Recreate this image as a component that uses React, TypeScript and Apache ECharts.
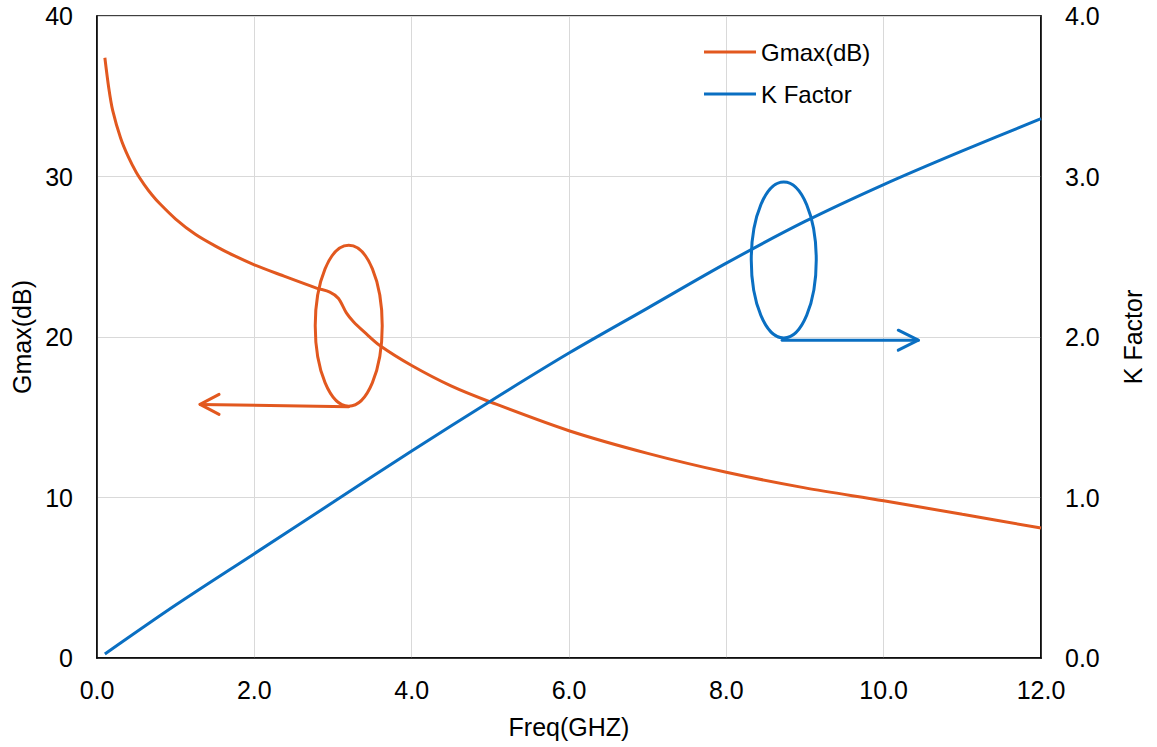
import React, { useEffect, useRef } from "react";
import * as echarts from "echarts";

// Gmax(dB) vs frequency (GHz)
const gmaxFreq = [0.1, 0.15, 0.2, 0.3, 0.4, 0.5, 0.6, 0.7, 0.8, 1.0, 1.25, 1.5, 1.75, 2.0, 2.33, 2.79, 2.96, 3.07, 3.17, 3.26, 3.4, 3.6, 4.0, 4.5, 5.0, 6.0, 7.0, 8.0, 9.0, 10.0, 11.0, 12.0];
const gmaxValues = [37.4, 35.5, 34.1, 32.4, 31.2, 30.25, 29.5, 28.85, 28.3, 27.35, 26.4, 25.68, 25.05, 24.5, 23.88, 23.05, 22.8, 22.4, 21.5, 20.95, 20.3, 19.45, 18.22, 16.95, 15.95, 14.16, 12.75, 11.57, 10.6, 9.8, 8.95, 8.1];

// K factor vs frequency (GHz)
const kFreq = [0.1, 1.0, 2.0, 3.0, 4.0, 5.0, 6.0, 7.0, 8.0, 9.0, 10.0, 11.0, 12.0];
const kValues = [0.025, 0.33, 0.65, 0.97, 1.29, 1.6, 1.9, 2.18, 2.46, 2.72, 2.95, 3.16, 3.36];

// Axis tick settings
const xTicks = { min: 0, max: 12, interval: 2 };
const gmaxTicks = { min: 0, max: 40, interval: 10 };
const kTicks = { min: 0, max: 4, interval: 1 };

// Annotation anchors in data coordinates: [freq, value]
const gmaxEllipseCenter = [3.2, 20.7];
const gmaxArrowFrom = [3.2, 15.65];
const gmaxArrowTo = [1.31, 15.8];
const kEllipseCenter = [8.73, 2.48];
const kArrowFrom = [8.71, 1.98];
const kArrowTo = [10.44, 1.98];

const ORANGE = "#E2581F";
const BLUE = "#0A6FC2";
const FONT = "'Liberation Sans', Arial, sans-serif";

export default function App() {
  const ref = useRef<HTMLDivElement>(null);

  useEffect(() => {
    if (!ref.current) return;
    const chart = echarts.init(ref.current, undefined, { renderer: "svg" });
    const gmaxData = gmaxFreq.map((f, i) => [f, gmaxValues[i]]);
    const kData = kFreq.map((f, i) => [f, kValues[i]]);
    const tickText = { color: "#000", fontSize: 25, fontFamily: FONT };
    const nameText = { color: "#000", fontSize: 25, fontFamily: FONT };

    chart.setOption({
      animation: false,
      backgroundColor: "#fff",
      textStyle: { fontFamily: FONT },
      grid: {
        left: 97,
        right: 116,
        top: 16,
        bottom: 89,
        show: true,
        borderColor: "#000",
        borderWidth: 1.5,
        backgroundColor: "transparent",
      },
      legend: {
        orient: "vertical",
        left: 699,
        top: 35,
        itemGap: 18,
        itemWidth: 52,
        itemHeight: 3,
        icon: "rect",
        textStyle: { color: "#000", fontSize: 24, fontFamily: FONT },
        data: ["Gmax(dB)", "K Factor"],
      },
      xAxis: {
        type: "value",
        ...xTicks,
        name: "Freq(GHZ)",
        nameLocation: "middle",
        nameGap: 56,
        nameTextStyle: nameText,
        axisLine: { show: true, lineStyle: { color: "#000", width: 1.5 } },
        axisTick: { show: false },
        axisLabel: { ...tickText, margin: 19, formatter: (v: number) => v.toFixed(1) },
        splitLine: { show: true, lineStyle: { color: "#d9d9d9", width: 1 } },
      },
      yAxis: [
        {
          type: "value",
          ...gmaxTicks,
          name: "Gmax(dB)",
          nameLocation: "middle",
          nameRotate: 90,
          nameGap: 62,
          nameTextStyle: nameText,
          axisLine: { show: true, lineStyle: { color: "#000", width: 1.5 } },
          axisTick: { show: false },
          axisLabel: { ...tickText, margin: 24 },
          splitLine: { show: true, lineStyle: { color: "#d9d9d9", width: 1 } },
        },
        {
          type: "value",
          ...kTicks,
          position: "right",
          name: "K Factor",
          nameLocation: "middle",
          nameRotate: 90,
          nameGap: 79,
          nameTextStyle: nameText,
          axisLine: { show: true, lineStyle: { color: "#000", width: 1.5 } },
          axisTick: { show: false },
          axisLabel: { ...tickText, margin: 24, formatter: (v: number) => v.toFixed(1) },
          splitLine: { show: false },
        },
      ],
      series: [
        {
          name: "Gmax(dB)",
          type: "line",
          xAxisIndex: 0,
          yAxisIndex: 0,
          data: gmaxData,
          smooth: 0.3,
          showSymbol: false,
          symbol: "none",
          lineStyle: { color: ORANGE, width: 3 },
          itemStyle: { color: ORANGE },
          z: 3,
        },
        {
          name: "K Factor",
          type: "line",
          xAxisIndex: 0,
          yAxisIndex: 1,
          data: kData,
          smooth: 0.3,
          showSymbol: false,
          symbol: "none",
          lineStyle: { color: BLUE, width: 3 },
          itemStyle: { color: BLUE },
          z: 3,
        },
      ],
    });

    const px = (pt: number[], yIdx: number) =>
      chart.convertToPixel({ xAxisIndex: 0, yAxisIndex: yIdx }, pt) as number[];

    const gc = px(gmaxEllipseCenter, 0);
    const gf = px(gmaxArrowFrom, 0);
    const gt = px(gmaxArrowTo, 0);
    const kc = px(kEllipseCenter, 1);
    const kf = px(kArrowFrom, 1);
    const kt = px(kArrowTo, 1);

    const lineStyleO = { stroke: ORANGE, lineWidth: 3, fill: "none", lineCap: "round", lineJoin: "round" };
    const lineStyleB = { stroke: BLUE, lineWidth: 3, fill: "none", lineCap: "round", lineJoin: "round" };

    chart.setOption({
      graphic: [
        { type: "ellipse", shape: { cx: gc[0], cy: gc[1], rx: 33.5, ry: 80.5 }, style: { ...lineStyleO }, z: 10 },
        { type: "line", shape: { x1: gf[0], y1: gf[1], x2: gt[0], y2: gt[1] }, style: { ...lineStyleO }, z: 10 },
        {
          type: "polyline",
          shape: { points: [[gt[0] + 19, gt[1] - 10], [gt[0], gt[1]], [gt[0] + 19, gt[1] + 10]] },
          style: { ...lineStyleO },
          z: 10,
        },
        { type: "ellipse", shape: { cx: kc[0], cy: kc[1], rx: 32.5, ry: 78 }, style: { ...lineStyleB }, z: 10 },
        { type: "line", shape: { x1: kf[0], y1: kf[1], x2: kt[0], y2: kt[1] }, style: { ...lineStyleB }, z: 10 },
        {
          type: "polyline",
          shape: { points: [[kt[0] - 20, kt[1] - 10], [kt[0], kt[1]], [kt[0] - 20, kt[1] + 10]] },
          style: { ...lineStyleB },
          z: 10,
        },
      ],
    });

    return () => chart.dispose();
  }, []);

  return (
    <div
      ref={ref}
      style={{ position: "fixed", left: 0, top: 0, width: 1157, height: 747, background: "#fff" }}
    />
  );
}
